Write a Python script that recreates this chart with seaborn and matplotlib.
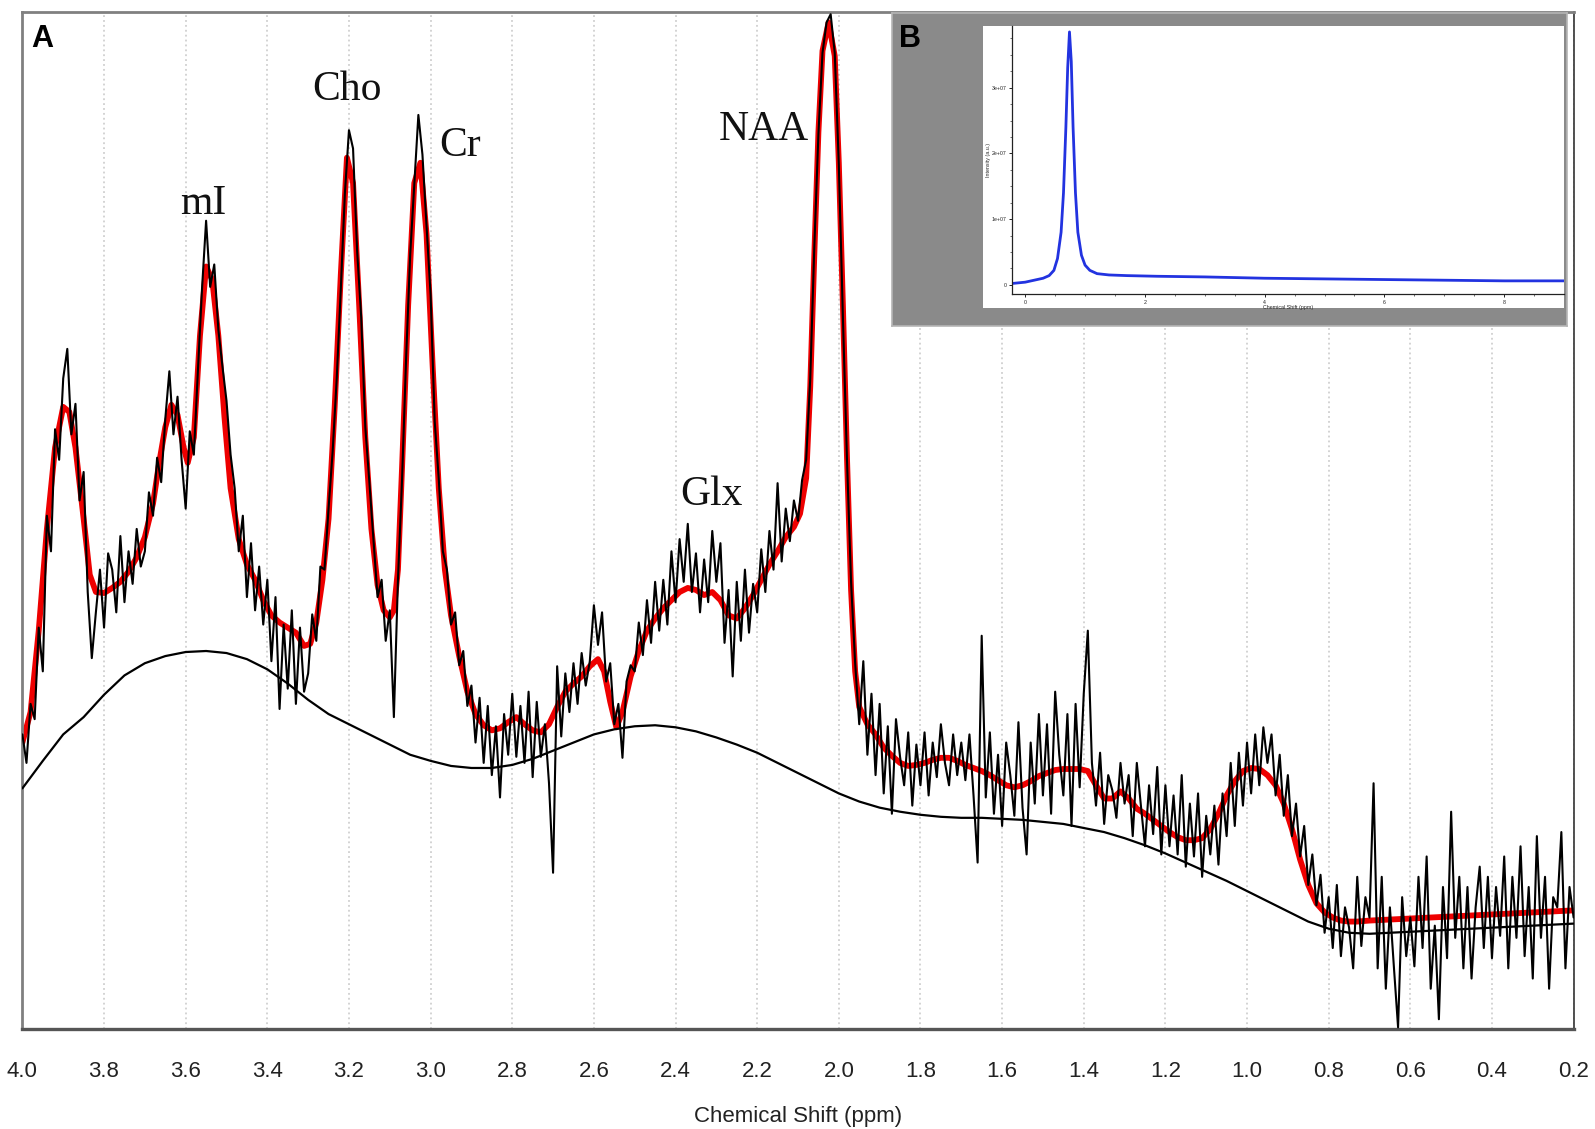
import numpy as np
import pandas as pd
import matplotlib
matplotlib.use("Agg")
import matplotlib.pyplot as plt
import seaborn as sns

# ---------------- data ----------------
# measured spectrum sampled every 0.01 ppm from 4.00 down to 0.20 (arbitrary intensity units)
spec_blocks = [
    [290, 262, 320, 305, 395, 352, 505, 470, 590, 560],   # 4.00-3.91
    [640, 669, 585, 615, 520, 548, 430, 365, 410, 452],   # 3.90-3.81
    [395, 468, 452, 410, 485, 420, 470, 438, 492, 455],   # 3.80-3.71
    [470, 528, 505, 562, 538, 600, 647, 585, 622, 560],   # 3.70-3.61
    [512, 588, 565, 648, 728, 795, 730, 752, 688, 652],   # 3.60-3.51
    [618, 565, 532, 470, 505, 425, 478, 412, 455, 398],   # 3.50-3.41
    [442, 362, 425, 315, 398, 335, 412, 320, 395, 332],   # 3.40-3.31
    [350, 408, 382, 455, 452, 512, 568, 640, 728, 822],   # 3.30-3.21
    [884, 866, 765, 700, 592, 538, 482, 425, 442, 382],   # 3.20-3.11
    [412, 307, 442, 540, 660, 762, 830, 899, 860, 790],   # 3.10-3.01
    [722, 598, 541, 470, 452, 398, 410, 358, 372, 318],   # 3.00-2.91
    [338, 282, 326, 262, 318, 250, 298, 228, 310, 270],   # 2.90-2.81
    [330, 268, 318, 262, 332, 248, 322, 268, 300, 242],   # 2.80-2.71
    [154, 357, 288, 350, 312, 360, 320, 370, 338, 362],   # 2.70-2.61
    [417, 378, 410, 342, 360, 300, 320, 267, 342, 358],   # 2.60-2.51
    [352, 400, 368, 422, 380, 440, 392, 442, 398, 470],   # 2.50-2.41
    [420, 482, 440, 497, 430, 468, 410, 462, 420, 490],   # 2.40-2.31
    [440, 478, 380, 432, 347, 440, 382, 452, 390, 438],   # 2.30-2.21
    [410, 472, 430, 490, 452, 537, 460, 512, 480, 520],   # 2.20-2.11
    [500, 540, 560, 640, 770, 880, 960, 990, 998, 960],   # 2.10-2.01
    [850, 700, 560, 440, 360, 300, 362, 270, 330, 250],   # 2.00-1.91
    [320, 232, 298, 212, 305, 268, 240, 292, 220, 280],   # 1.90-1.81
    [240, 292, 230, 282, 248, 300, 262, 240, 290, 250],   # 1.80-1.71
    [282, 245, 290, 230, 164, 387, 228, 292, 212, 270],   # 1.70-1.61
    [200, 282, 250, 210, 302, 218, 172, 282, 222, 310],   # 1.60-1.51
    [230, 300, 212, 332, 270, 230, 310, 200, 320, 238],   # 1.50-1.41
    [330, 392, 262, 220, 272, 202, 250, 235, 208, 262],   # 1.40-1.31
    [222, 250, 190, 262, 220, 180, 240, 192, 258, 172],   # 1.30-1.21
    [240, 180, 230, 172, 250, 160, 222, 170, 232, 150],   # 1.20-1.11
    [210, 172, 220, 162, 232, 190, 262, 200, 272, 220],   # 1.10-1.01
    [282, 232, 290, 240, 297, 262, 290, 230, 270, 210],   # 1.00-0.91
    [250, 190, 222, 170, 200, 142, 172, 122, 152, 95],    # 0.90-0.81
    [130, 80, 142, 72, 120, 100, 60, 150, 82, 130],       # 0.80-0.71
    [110, 242, 60, 150, 40, 120, 60, 2, 130, 72],         # 0.70-0.61
    [110, 62, 150, 80, 170, 40, 102, 10, 140, 70],        # 0.60-0.51
    [214, 90, 150, 60, 140, 50, 120, 160, 80, 150],       # 0.50-0.41
    [70, 140, 92, 170, 60, 150, 90, 180, 72, 140],        # 0.40-0.31
    [50, 190, 90, 150, 40, 130, 120, 194, 60, 140],       # 0.30-0.21
    [110],                                                # 0.20
]
spectrum = [v for blk in spec_blocks for v in blk]
spec_ppm = np.linspace(4.0, 0.2, len(spectrum))

# fitted model (red)
fit_ppm = [4.00, 3.98, 3.96, 3.94, 3.92, 3.90, 3.885, 3.87, 3.85, 3.835, 3.82, 3.80, 3.78, 3.76,
           3.74, 3.72, 3.70, 3.68, 3.665, 3.65, 3.635, 3.62, 3.605, 3.595, 3.58, 3.565, 3.55,
           3.535, 3.52, 3.505, 3.49, 3.47, 3.45, 3.43, 3.41, 3.39, 3.37, 3.35, 3.33, 3.31, 3.295,
           3.28, 3.265, 3.25, 3.235, 3.22, 3.205, 3.19, 3.175, 3.16, 3.145, 3.13, 3.115, 3.10,
           3.09, 3.08, 3.07, 3.055, 3.04, 3.025, 3.01, 2.995, 2.98, 2.965, 2.95, 2.93, 2.91, 2.89,
           2.87, 2.85, 2.83, 2.81, 2.79, 2.77, 2.75, 2.73, 2.71, 2.69, 2.67, 2.65, 2.63, 2.61,
           2.59, 2.575, 2.56, 2.545, 2.53, 2.51, 2.49, 2.47, 2.45, 2.43, 2.41, 2.39, 2.37, 2.35,
           2.33, 2.31, 2.29, 2.27, 2.25, 2.23, 2.21, 2.19, 2.17, 2.15, 2.13, 2.11, 2.095, 2.08,
           2.07, 2.06, 2.05, 2.04, 2.025, 2.01, 2.00, 1.99, 1.98, 1.97, 1.96, 1.95, 1.93, 1.91,
           1.89, 1.87, 1.85, 1.83, 1.81, 1.79, 1.77, 1.75, 1.73, 1.71, 1.69, 1.67, 1.65, 1.63,
           1.61, 1.59, 1.57, 1.55, 1.53, 1.51, 1.49, 1.47, 1.45, 1.43, 1.41, 1.39, 1.37, 1.35,
           1.33, 1.31, 1.29, 1.27, 1.25, 1.23, 1.21, 1.19, 1.17, 1.15, 1.13, 1.11, 1.09, 1.07,
           1.05, 1.03, 1.01, 0.99, 0.97, 0.95, 0.93, 0.91, 0.89, 0.87, 0.85, 0.83, 0.81, 0.79,
           0.77, 0.75, 0.73, 0.70, 0.65, 0.60, 0.55, 0.50, 0.45, 0.40, 0.35, 0.30, 0.25, 0.20]
fit_val = [282, 312, 392, 492, 572, 612, 607, 572, 502, 447, 430, 429, 434, 440,
           450, 464, 484, 517, 557, 592, 614, 604, 572, 557, 582, 682, 750,
           737, 682, 602, 532, 482, 457, 442, 422, 407, 400, 395, 390, 377, 379,
           400, 442, 502, 612, 742, 857, 832, 712, 582, 492, 437, 412, 405,
           412, 452, 552, 712, 832, 852, 782, 652, 532, 452, 407, 367, 332, 310,
           299, 294, 296, 302, 307, 300, 294, 292, 300, 317, 332, 340, 347, 357,
           364, 352, 322, 297, 312, 347, 372, 392, 404, 414, 422, 430, 434, 432,
           427, 430, 422, 407, 404, 414, 427, 442, 457, 470, 484, 494, 507, 542,
           632, 762, 882, 962, 990, 957, 852, 712, 562, 432, 352, 317, 300, 290,
           277, 269, 262, 259, 260, 262, 265, 267, 267, 264, 260, 257, 254, 250,
           245, 240, 238, 240, 244, 249, 252, 255, 256, 256, 256, 254, 240, 227,
           227, 234, 227, 217, 212, 206, 200, 194, 189, 186, 186, 188, 197, 212,
           230, 244, 254, 257, 256, 250, 240, 222, 197, 167, 142, 124, 115, 110,
           107, 106, 106, 107, 108, 109, 110, 111, 112, 113, 114, 115, 116, 117]

# baseline (black smooth)
base_ppm = [4.00, 3.95, 3.90, 3.85, 3.80, 3.75, 3.70, 3.65, 3.60, 3.55, 3.50, 3.45, 3.40, 3.35,
            3.30, 3.25, 3.20, 3.15, 3.10, 3.05, 3.00, 2.95, 2.90, 2.85, 2.80, 2.75, 2.70, 2.65,
            2.60, 2.55, 2.50, 2.45, 2.40, 2.35, 2.30, 2.25, 2.20, 2.15, 2.10, 2.05, 2.00, 1.95,
            1.90, 1.85, 1.80, 1.75, 1.70, 1.65, 1.60, 1.55, 1.50, 1.45, 1.40, 1.35, 1.30, 1.25,
            1.20, 1.15, 1.10, 1.05, 1.00, 0.95, 0.90, 0.85, 0.80, 0.75, 0.70, 0.65, 0.60, 0.55,
            0.50, 0.45, 0.40, 0.35, 0.30, 0.25, 0.20]
base_val = [237, 264, 290, 307, 329, 348, 360, 367, 371, 372, 370, 364, 354, 340,
            324, 310, 300, 290, 280, 270, 264, 259, 257, 257, 260, 266, 274, 282,
            290, 295, 298, 299, 297, 293, 287, 280, 272, 262, 252, 242, 232, 224,
            218, 214, 211, 209, 208, 208, 207, 206, 204, 202, 198, 194, 188, 181,
            173, 164, 155, 146, 136, 126, 116, 106, 99, 95, 94, 95, 96, 97,
            98, 99, 100, 101, 102, 103, 104]

# peak labels
peak_names = ["mI", "Cho", "Cr", "Glx", "NAA"]
peak_pos = [3.556, 3.205, 2.929, 2.313, 2.183]
peak_height = [802, 914, 859, 516, 874]

ticks = [4.0, 3.8, 3.6, 3.4, 3.2, 3.0, 2.8, 2.6, 2.4, 2.2, 2.0, 1.8, 1.6, 1.4, 1.2, 1.0, 0.8, 0.6, 0.4, 0.2]

# inset (B): reference line shape
inset_x = [-0.22, 0.0, 0.15, 0.3, 0.4, 0.48, 0.54, 0.6, 0.64, 0.68, 0.71, 0.74, 0.77, 0.80,
           0.84, 0.88, 0.94, 1.0, 1.08, 1.2, 1.4, 1.7, 2.2, 3.0, 4.0, 5.0, 6.0, 7.0, 8.0, 9.0]
inset_y = [0.02, 0.04, 0.07, 0.10, 0.14, 0.22, 0.40, 0.80, 1.40, 2.40, 3.30, 3.85, 3.40, 2.40,
           1.40, 0.80, 0.45, 0.30, 0.22, 0.17, 0.15, 0.14, 0.13, 0.12, 0.10, 0.09, 0.08, 0.07, 0.06, 0.06]
inset_xticks = [0, 2, 4, 6, 8]
inset_yticks = [0, 1, 2, 3]
inset_yticklabels = ["0", "1e+07", "2e+07", "3e+07"]

# ---------------- plot ----------------
sns.set_style("white")
plt.rcParams["font.family"] = ["Liberation Sans", "DejaVu Sans"]

W, H = 1595, 1129


def box(x0, y0, x1, y1):
    """pixel box (left, top, right, bottom) -> figure fraction rect"""
    return [x0 / W, 1 - y1 / H, (x1 - x0) / W, (y1 - y0) / H]


fig = plt.figure(figsize=(W / 100, H / 100), dpi=100)
ax = fig.add_axes(box(22.4, 12.2, 1573.6, 1029.4))

df_spec = pd.DataFrame({"ppm": spec_ppm, "val": spectrum})
df_fit = pd.DataFrame({"ppm": fit_ppm, "val": fit_val})
df_base = pd.DataFrame({"ppm": base_ppm, "val": base_val})

for t in ticks:
    ax.axvline(t, color="#c8c8c8", lw=1.1, ls=(0, (1.2, 2.0)), zorder=0)

sns.lineplot(data=df_fit, x="ppm", y="val", ax=ax, color="#ee0000", lw=4.2,
             sort=False, estimator=None, zorder=2)
sns.lineplot(data=df_spec, x="ppm", y="val", ax=ax, color="black", lw=1.5,
             sort=False, estimator=None, zorder=3)
sns.lineplot(data=df_base, x="ppm", y="val", ax=ax, color="black", lw=1.6,
             sort=False, estimator=None, zorder=3)

ax.set_xlim(4.0, 0.2)
ax.set_ylim(0, 1000)
ax.set_xticks(ticks)
ax.set_xticklabels([f"{t:.1f}" for t in ticks])
ax.set_yticks([])
ax.set_ylabel("")
ax.set_xlabel("Chemical Shift (ppm)", fontsize=16, color="#222222", labelpad=17)
ax.tick_params(axis="x", direction="out", length=7.7, width=1.8, color="#555555",
               labelsize=16, labelcolor="#222222", pad=15)
for s in ["left", "top"]:
    ax.spines[s].set_color("#808080")
    ax.spines[s].set_linewidth(2.0)
ax.spines["right"].set_color("#333333")
ax.spines["right"].set_linewidth(1.2)
ax.spines["bottom"].set_color("#555555")
ax.spines["bottom"].set_linewidth(2.4)

for name, p, h in zip(peak_names, peak_pos, peak_height):
    ax.text(p, h, name, ha="center", va="baseline", fontsize=30,
            family=["Liberation Serif", "DejaVu Serif"], color="#111111")

fig.text(31.5 / W, 1 - 24 / H, "A", fontsize=22, fontweight="bold",
         ha="left", va="top", color="black")

# inset panel B
gray = fig.add_axes(box(892, 12.5, 1567, 325.5))
gray.set_facecolor("#8a8a8a")
gray.set_xticks([]); gray.set_yticks([])
for s in gray.spines.values():
    s.set_color("#b5b5b5"); s.set_linewidth(1.2)
fig.text(899 / W, 1 - 24 / H, "B", fontsize=22, fontweight="bold",
         ha="left", va="top", color="black")

white = fig.add_axes(box(983, 26, 1564, 308))
white.set_facecolor("white")
white.set_xticks([]); white.set_yticks([])
for s in white.spines.values():
    s.set_visible(False)

ins = fig.add_axes(box(1012, 26, 1564, 294))
ins.patch.set_alpha(0)
df_ins = pd.DataFrame({"x": inset_x, "y": inset_y})
sns.lineplot(data=df_ins, x="x", y="y", ax=ins, color="#2233e0", lw=2.0,
             sort=False, estimator=None)
ins.set_xlim(-0.22, 9.0)
ins.set_ylim(-0.14, 3.94)
ins.set_xticks(inset_xticks)
ins.set_yticks(inset_yticks)
ins.set_yticklabels(inset_yticklabels)
ins.set_xticks([0.5 * i for i in range(0, 18)], minor=True)
ins.set_yticks([0.25 * i for i in range(0, 16)], minor=True)
ins.tick_params(which="major", labelsize=3.8, length=2.5, width=0.7, pad=1.5, colors="#222222")
ins.tick_params(which="minor", length=1.3, width=0.5, colors="#333333")
ins.tick_params(axis="x", which="both", bottom=True)
ins.tick_params(axis="y", which="both", left=True)
ins.set_xlabel("Chemical Shift (ppm)", fontsize=3.8, labelpad=0.5)
ins.set_ylabel("Intensity (a.u.)", fontsize=3.8, labelpad=0.5)
for s in ["top", "right"]:
    ins.spines[s].set_visible(False)
for s in ["left", "bottom"]:
    ins.spines[s].set_color("#222222"); ins.spines[s].set_linewidth(0.9)

fig.savefig("out.png", dpi=100)
